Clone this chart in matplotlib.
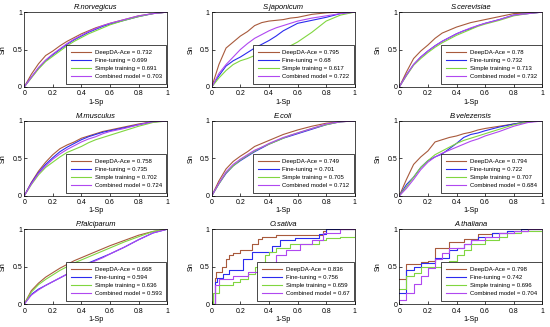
import matplotlib
matplotlib.use("Agg")
import matplotlib.pyplot as plt

plt.rcParams['font.family'] = ['Liberation Sans', 'DejaVu Sans']

titles = ["R.norvegicus", "S.japonicum", "S.cerevisiae",
          "M.musculus", "E.coli", "B.velezensis",
          "P.falciparum", "O.sativa", "A.thaliana"]
models = ["DeepDA-Ace", "Fine-tuning", "Simple training", "Combined model"]
aucs = [
    [0.732, 0.699, 0.691, 0.703],
    [0.795, 0.68, 0.617, 0.722],
    [0.78, 0.732, 0.713, 0.732],
    [0.758, 0.735, 0.702, 0.724],
    [0.749, 0.701, 0.705, 0.712],
    [0.794, 0.722, 0.707, 0.684],
    [0.668, 0.594, 0.636, 0.593],
    [0.836, 0.756, 0.659, 0.67],
    [0.798, 0.742, 0.696, 0.704],
]

# --- smooth panels: shared FPR grid per panel, TPR per model ---
fpr_grid = [0, 0.05, 0.1, 0.15, 0.2, 0.25, 0.3, 0.35, 0.4, 0.45, 0.5, 0.55, 0.6, 0.7, 0.8, 0.9, 1.0]

rnor_tpr = [
    [0, 0.17, 0.31, 0.42, 0.48, 0.55, 0.61, 0.66, 0.71, 0.75, 0.79, 0.82, 0.85, 0.90, 0.95, 0.98, 1],
    [0, 0.13, 0.25, 0.35, 0.43, 0.50, 0.57, 0.63, 0.68, 0.73, 0.77, 0.81, 0.84, 0.89, 0.94, 0.98, 1],
    [0, 0.12, 0.24, 0.34, 0.41, 0.48, 0.55, 0.61, 0.66, 0.71, 0.75, 0.79, 0.83, 0.89, 0.94, 0.98, 1],
    [0, 0.13, 0.26, 0.36, 0.44, 0.51, 0.58, 0.64, 0.69, 0.74, 0.78, 0.82, 0.85, 0.90, 0.95, 0.98, 1],
]
sjap_tpr = [
    [0, 0.30, 0.52, 0.60, 0.68, 0.74, 0.82, 0.86, 0.88, 0.89, 0.90, 0.92, 0.93, 0.97, 0.99, 1.0, 1],
    [0, 0.15, 0.28, 0.35, 0.40, 0.46, 0.52, 0.57, 0.62, 0.68, 0.75, 0.80, 0.85, 0.89, 0.93, 0.98, 1],
    [0, 0.12, 0.22, 0.30, 0.35, 0.38, 0.42, 0.44, 0.46, 0.48, 0.50, 0.55, 0.60, 0.73, 0.88, 0.96, 1],
    [0, 0.18, 0.30, 0.40, 0.50, 0.58, 0.65, 0.70, 0.75, 0.79, 0.82, 0.85, 0.88, 0.92, 0.95, 0.98, 1],
]
scer_tpr = [
    [0, 0.20, 0.38, 0.48, 0.56, 0.65, 0.72, 0.76, 0.80, 0.83, 0.86, 0.88, 0.90, 0.94, 0.98, 0.99, 1],
    [0, 0.16, 0.30, 0.40, 0.48, 0.55, 0.61, 0.66, 0.71, 0.75, 0.78, 0.82, 0.85, 0.90, 0.96, 0.98, 1],
    [0, 0.15, 0.29, 0.38, 0.46, 0.53, 0.59, 0.64, 0.69, 0.73, 0.77, 0.81, 0.84, 0.89, 0.95, 0.98, 1],
    [0, 0.16, 0.30, 0.40, 0.48, 0.55, 0.61, 0.66, 0.71, 0.75, 0.79, 0.82, 0.85, 0.90, 0.96, 0.98, 1],
]
mmus_tpr = [
    [0, 0.18, 0.33, 0.45, 0.55, 0.63, 0.68, 0.72, 0.77, 0.80, 0.83, 0.86, 0.88, 0.92, 0.96, 0.99, 1],
    [0, 0.17, 0.31, 0.42, 0.51, 0.59, 0.65, 0.70, 0.75, 0.79, 0.82, 0.85, 0.87, 0.91, 0.95, 0.99, 1],
    [0, 0.15, 0.28, 0.38, 0.45, 0.52, 0.58, 0.62, 0.66, 0.71, 0.75, 0.78, 0.81, 0.87, 0.93, 0.98, 1],
    [0, 0.16, 0.30, 0.40, 0.49, 0.56, 0.62, 0.67, 0.72, 0.76, 0.79, 0.83, 0.86, 0.90, 0.95, 0.99, 1],
]
ecol_tpr = [
    [0, 0.20, 0.36, 0.46, 0.53, 0.59, 0.66, 0.70, 0.74, 0.78, 0.82, 0.85, 0.88, 0.93, 0.97, 0.99, 1],
    [0, 0.16, 0.30, 0.40, 0.47, 0.53, 0.59, 0.64, 0.69, 0.73, 0.77, 0.80, 0.83, 0.89, 0.95, 0.99, 1],
    [0, 0.16, 0.31, 0.40, 0.48, 0.54, 0.60, 0.65, 0.69, 0.73, 0.77, 0.81, 0.84, 0.90, 0.95, 0.99, 1],
    [0, 0.17, 0.32, 0.42, 0.49, 0.55, 0.61, 0.65, 0.70, 0.74, 0.78, 0.81, 0.84, 0.90, 0.96, 0.99, 1],
]
bvel_tpr = [
    [0, 0.22, 0.42, 0.52, 0.60, 0.72, 0.75, 0.78, 0.80, 0.83, 0.85, 0.88, 0.90, 0.93, 0.96, 0.99, 1],
    [0, 0.15, 0.25, 0.38, 0.47, 0.52, 0.56, 0.63, 0.70, 0.78, 0.82, 0.84, 0.87, 0.92, 0.96, 0.99, 1],
    [0, 0.12, 0.25, 0.38, 0.47, 0.55, 0.60, 0.65, 0.70, 0.74, 0.77, 0.80, 0.83, 0.89, 0.95, 0.99, 1],
    [0, 0.10, 0.22, 0.35, 0.45, 0.52, 0.57, 0.61, 0.65, 0.69, 0.73, 0.76, 0.80, 0.86, 0.93, 0.98, 1],
]
pfal_tpr = [
    [0, 0.18, 0.28, 0.36, 0.42, 0.48, 0.53, 0.58, 0.62, 0.66, 0.70, 0.74, 0.78, 0.85, 0.92, 0.97, 1],
    [0, 0.13, 0.20, 0.25, 0.30, 0.35, 0.40, 0.45, 0.50, 0.55, 0.59, 0.63, 0.67, 0.76, 0.86, 0.95, 1],
    [0, 0.16, 0.26, 0.33, 0.39, 0.45, 0.50, 0.55, 0.59, 0.63, 0.67, 0.71, 0.75, 0.83, 0.90, 0.97, 1],
    [0, 0.12, 0.19, 0.25, 0.30, 0.35, 0.40, 0.45, 0.50, 0.54, 0.58, 0.62, 0.67, 0.76, 0.86, 0.95, 1],
]

# --- staircase panels: (fpr, tpr) pairs per model ---
osat_fpr = [
    [0, 0.02, 0.03, 0.07, 0.10, 0.12, 0.15, 0.20, 0.28, 0.32, 0.35, 0.45, 0.78, 0.80, 1.0],
    [0, 0.02, 0.04, 0.08, 0.12, 0.22, 0.28, 0.42, 0.48, 0.58, 0.75, 0.80, 1.0],
    [0, 0.01, 0.05, 0.15, 0.20, 0.25, 0.30, 0.33, 0.37, 0.40, 0.45, 0.55, 0.75, 0.80, 0.90, 1.0],
    [0, 0.02, 0.05, 0.15, 0.25, 0.33, 0.38, 0.45, 0.52, 0.62, 0.70, 0.78, 0.90, 1.0],
]
osat_tpr = [
    [0, 0.35, 0.43, 0.50, 0.60, 0.65, 0.68, 0.72, 0.80, 0.87, 0.90, 0.92, 0.97, 1.0, 1.0],
    [0, 0.30, 0.35, 0.40, 0.45, 0.60, 0.70, 0.78, 0.85, 0.88, 0.93, 1.0, 1.0],
    [0, 0.15, 0.25, 0.30, 0.33, 0.40, 0.50, 0.55, 0.65, 0.70, 0.75, 0.80, 0.85, 0.88, 0.90, 0.93],
    [0, 0.25, 0.33, 0.37, 0.43, 0.50, 0.53, 0.65, 0.72, 0.80, 0.85, 0.95, 1.0, 1.0],
]
atha_fpr = [
    [0, 0.05, 0.15, 0.20, 0.25, 0.35, 0.45, 0.55, 0.65, 0.75, 0.90, 1.0],
    [0, 0.05, 0.10, 0.15, 0.25, 0.35, 0.40, 0.45, 0.50, 0.55, 0.65, 0.75, 0.85, 1.0],
    [0, 0.05, 0.10, 0.15, 0.30, 0.35, 0.40, 0.45, 0.50, 0.60, 0.70, 0.75, 0.85, 1.0],
    [0, 0.05, 0.10, 0.15, 0.20, 0.25, 0.30, 0.35, 0.45, 0.50, 0.60, 0.70, 0.80, 0.90, 1.0],
]
atha_tpr = [
    [0.33, 0.53, 0.56, 0.58, 0.75, 0.83, 0.87, 0.93, 0.95, 0.97, 1.0, 1.0],
    [0.15, 0.45, 0.50, 0.55, 0.62, 0.72, 0.75, 0.80, 0.85, 0.90, 0.95, 0.97, 1.0, 1.0],
    [0.20, 0.37, 0.42, 0.50, 0.55, 0.58, 0.65, 0.72, 0.80, 0.85, 0.90, 0.95, 0.98, 0.98],
    [0.05, 0.15, 0.27, 0.38, 0.48, 0.60, 0.68, 0.75, 0.80, 0.85, 0.90, 0.95, 0.97, 1.0, 1.0],
]

smooth = {0: rnor_tpr, 1: sjap_tpr, 2: scer_tpr, 3: mmus_tpr, 4: ecol_tpr, 5: bvel_tpr, 6: pfal_tpr}
steps = {7: (osat_fpr, osat_tpr), 8: (atha_fpr, atha_tpr)}

colors = ["#A85A3C", "#2B2BEE", "#80D640", "#B048F0"]

fig = plt.figure(figsize=(5.5, 3.27), dpi=100)
lefts = [0.044, 0.385, 0.726]
bottoms = [0.734, 0.401, 0.070]
W, H = 0.26, 0.229

for i, title in enumerate(titles):
    r, c = divmod(i, 3)
    ax = fig.add_axes([lefts[c], bottoms[r], W, H])
    for k in range(4):
        lab = f"{models[k]} = {aucs[i][k]:g}"
        if i in smooth:
            ax.plot(fpr_grid, smooth[i][k], color=colors[k], lw=0.8, label=lab)
        else:
            fx, ty = steps[i]
            ax.plot(fx[k], ty[k], color=colors[k], lw=0.8, drawstyle='steps-post', label=lab)
    ax.set_xlim(0, 1)
    ax.set_ylim(0, 1)
    ax.set_xticks([0, 0.2, 0.4, 0.6, 0.8, 1])
    ax.set_xticklabels(["0", "0.2", "0.4", "0.6", "0.8", "1"])
    ax.set_yticks([0, 0.5, 1])
    ax.set_yticklabels(["0", "0.5", "1"])
    ax.tick_params(direction='in', length=2, labelsize=5, width=0.5)
    ax.tick_params(axis='x', pad=2.5)
    ax.tick_params(axis='y', pad=1.5)
    for s in ax.spines.values():
        s.set_linewidth(0.5)
    ax.set_title(title, fontsize=5.4, style='italic', pad=2.5)
    ax.set_xlabel("1-Sp", fontsize=5.2, labelpad=0.8)
    ax.set_ylabel("Sn", fontsize=5.2)
    ax.yaxis.set_label_coords(-0.122, 0.5)
    leg = ax.legend(loc='lower right', bbox_to_anchor=(0.995, 0.045), fontsize=4.3,
                    handlelength=3.4, handletextpad=0.6,
                    borderpad=0.8, labelspacing=0.45, fancybox=False, framealpha=1,
                    edgecolor='black', borderaxespad=0.0)
    leg.get_frame().set_linewidth(0.5)

fig.savefig("out.png", dpi=100)
